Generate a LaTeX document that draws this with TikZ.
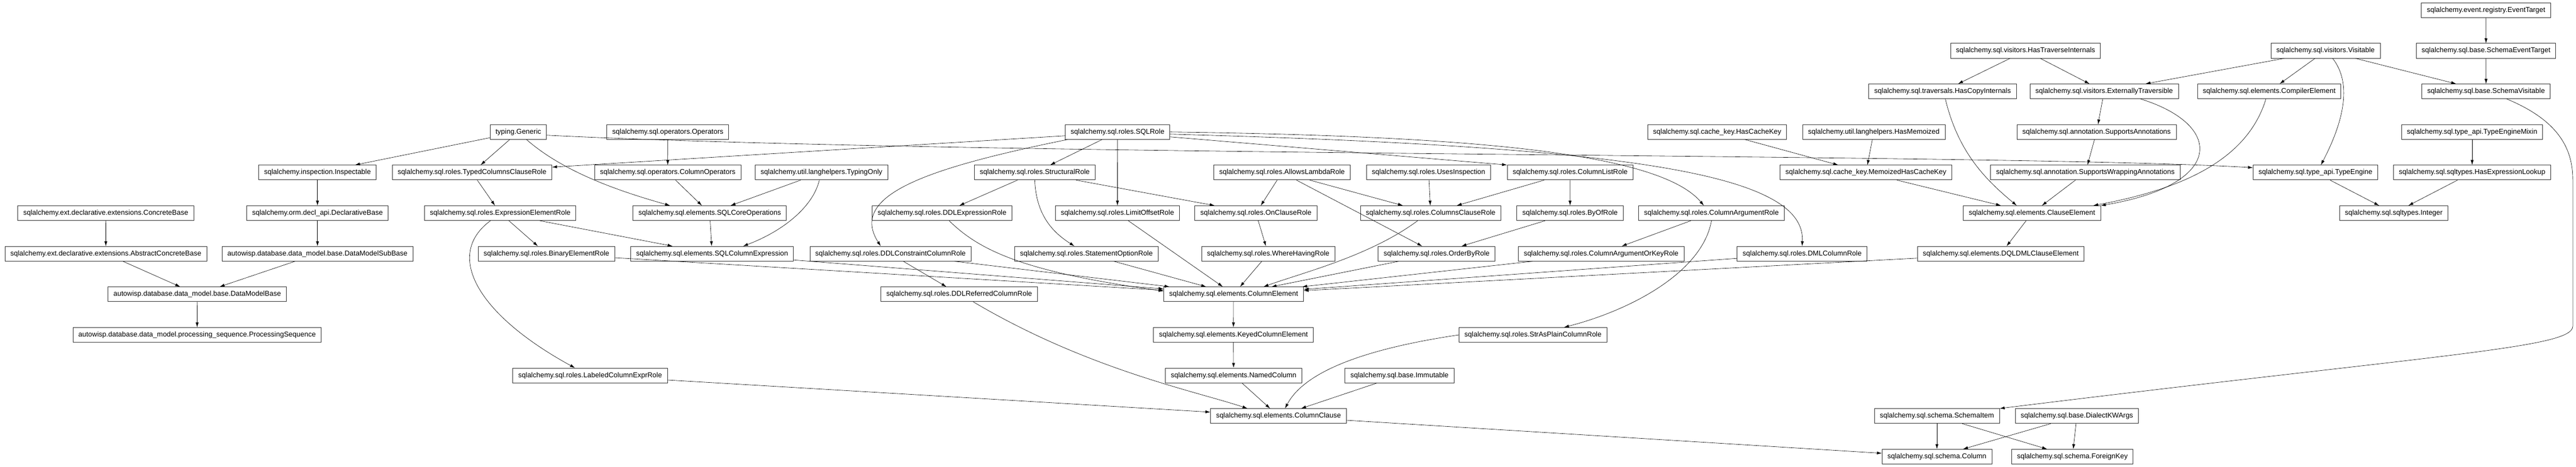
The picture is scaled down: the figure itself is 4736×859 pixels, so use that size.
\documentclass[tikz,border=0pt]{standalone}
\usepackage{fontspec}
\setmainfont{Liberation Sans}
\usetikzlibrary{arrows.meta}
\begin{document}
\begin{tikzpicture}[x=1pt,y=-1pt,>={Latex[length=9pt,width=5.5pt]},
    cls/.style={draw=black!80,line width=0.9pt,minimum height=27pt,
      inner xsep=10pt,inner ysep=0pt,font=\fontsize{13}{15}\selectfont},
    inh/.style={->,line width=0.6pt}]
  \useasboundingbox (0,0) rectangle (4736,859);
  \node[cls] (EventTarget) at (4570.6,18.8) {sqlalchemy.event.registry.EventTarget};
  \node[cls] (HasTraverseInternals) at (3724,93.45) {sqlalchemy.sql.visitors.HasTraverseInternals};
  \node[cls] (Visitable) at (4275.5,93.45) {sqlalchemy.sql.visitors.Visitable};
  \node[cls] (SchemaEventTarget) at (4570.5,93.45) {sqlalchemy.sql.base.SchemaEventTarget};
  \node[cls] (HasCopyInternals) at (3571.5,168.1) {sqlalchemy.sql.traversals.HasCopyInternals};
  \node[cls] (ExternallyTraversible) at (3868.5,168.1) {sqlalchemy.sql.visitors.ExternallyTraversible};
  \node[cls] (CompilerElement) at (4171.9,168.1) {sqlalchemy.sql.elements.CompilerElement};
  \node[cls] (SchemaVisitable) at (4570.6,168.1) {sqlalchemy.sql.base.SchemaVisitable};
  \node[cls] (Generic) at (953,242.75) {typing.Generic};
  \node[cls] (Operators) at (1227.8,242.75) {sqlalchemy.sql.operators.Operators};
  \node[cls] (SQLRole) at (2054.6,242.75) {sqlalchemy.sql.roles.SQLRole};
  \node[cls] (HasCacheKey) at (3157,242.75) {sqlalchemy.sql.cache\_key.HasCacheKey};
  \node[cls] (HasMemoized) at (3445,242.75) {sqlalchemy.util.langhelpers.HasMemoized};
  \node[cls] (SupportsAnnotations) at (3854.5,242.75) {sqlalchemy.sql.annotation.SupportsAnnotations};
  \node[cls] (TypeEngineMixin) at (4545,242.75) {sqlalchemy.sql.type\_api.TypeEngineMixin};
  \node[cls] (Inspectable) at (583.7,317.4) {sqlalchemy.inspection.Inspectable};
  \node[cls] (TypedColumnsClauseRole) at (867.8,317.4) {sqlalchemy.sql.roles.TypedColumnsClauseRole};
  \node[cls] (ColumnOperators) at (1227.6,317.4) {sqlalchemy.sql.operators.ColumnOperators};
  \node[cls] (TypingOnly) at (1510.3,317.4) {sqlalchemy.util.langhelpers.TypingOnly};
  \node[cls] (StructuralRole) at (1902.4,317.4) {sqlalchemy.sql.roles.StructuralRole};
  \node[cls] (AllowsLambdaRole) at (2357,317.4) {sqlalchemy.sql.roles.AllowsLambdaRole};
  \node[cls] (UsesInspection) at (2626.4,317.4) {sqlalchemy.sql.roles.UsesInspection};
  \node[cls] (ColumnListRole) at (2886.7,317.4) {sqlalchemy.sql.roles.ColumnListRole};
  \node[cls] (MemoizedHasCacheKey) at (3430.5,317.4) {sqlalchemy.sql.cache\_key.MemoizedHasCacheKey};
  \node[cls] (SupportsWrappingAnnotations) at (3834,317.4) {sqlalchemy.sql.annotation.SupportsWrappingAnnotations};
  \node[cls] (TypeEngine) at (4257,317.4) {sqlalchemy.sql.type\_api.TypeEngine};
  \node[cls] (HasExpressionLookup) at (4545,317.4) {sqlalchemy.sql.sqltypes.HasExpressionLookup};
  \node[cls] (ConcreteBase) at (194.4,392.05) {sqlalchemy.ext.declarative.extensions.ConcreteBase};
  \node[cls] (DeclarativeBase) at (583.7,392.05) {sqlalchemy.orm.decl\_api.DeclarativeBase};
  \node[cls] (ExpressionElementRole) at (919.7,392.05) {sqlalchemy.sql.roles.ExpressionElementRole};
  \node[cls] (SQLCoreOperations) at (1304.8,392.05) {sqlalchemy.sql.elements.SQLCoreOperations};
  \node[cls] (DDLExpressionRole) at (1732,392.05) {sqlalchemy.sql.roles.DDLExpressionRole};
  \node[cls] (LimitOffsetRole) at (2054.4,392.05) {sqlalchemy.sql.roles.LimitOffsetRole};
  \node[cls] (OnClauseRole) at (2309,392.05) {sqlalchemy.sql.roles.OnClauseRole};
  \node[cls] (ColumnsClauseRole) at (2630.3,392.05) {sqlalchemy.sql.roles.ColumnsClauseRole};
  \node[cls] (ByOfRole) at (2886.5,392.05) {sqlalchemy.sql.roles.ByOfRole};
  \node[cls] (ColumnArgumentRole) at (3146.5,392.05) {sqlalchemy.sql.roles.ColumnArgumentRole};
  \node[cls] (ClauseElement) at (3735.7,392.05) {sqlalchemy.sql.elements.ClauseElement};
  \node[cls] (Integer) at (4400.9,392.05) {sqlalchemy.sql.sqltypes.Integer};
  \node[cls] (AbstractConcreteBase) at (194.6,466.7) {sqlalchemy.ext.declarative.extensions.AbstractConcreteBase};
  \node[cls] (DataModelSubBase) at (583.7,466.7) {autowisp.database.data\_model.base.DataModelSubBase};
  \node[cls] (BinaryElementRole) at (1004.7,466.7) {sqlalchemy.sql.roles.BinaryElementRole};
  \node[cls] (SQLColumnExpression) at (1309.2,466.7) {sqlalchemy.sql.elements.SQLColumnExpression};
  \node[cls] (DDLConstraintColumnRole) at (1637.2,466.7) {sqlalchemy.sql.roles.DDLConstraintColumnRole};
  \node[cls] (StatementOptionRole) at (1997.3,466.7) {sqlalchemy.sql.roles.StatementOptionRole};
  \node[cls] (WhereHavingRole) at (2331.6,466.7) {sqlalchemy.sql.roles.WhereHavingRole};
  \node[cls] (OrderByRole) at (2641.2,466.7) {sqlalchemy.sql.roles.OrderByRole};
  \node[cls] (ColumnArgumentOrKeyRole) at (2943.7,466.7) {sqlalchemy.sql.roles.ColumnArgumentOrKeyRole};
  \node[cls] (DMLColumnRole) at (3313.2,466.7) {sqlalchemy.sql.roles.DMLColumnRole};
  \node[cls] (DQLDMLClauseElement) at (3678.5,466.7) {sqlalchemy.sql.elements.DQLDMLClauseElement};
  \node[cls] (DataModelBase) at (362.6,541.35) {autowisp.database.data\_model.base.DataModelBase};
  \node[cls] (DDLReferredColumnRole) at (1763.5,541.35) {sqlalchemy.sql.roles.DDLReferredColumnRole};
  \node[cls] (ColumnElement) at (2268,541.35) {sqlalchemy.sql.elements.ColumnElement};
  \node[cls] (ProcessingSequence) at (362.4,616) {autowisp.database.data\_model.processing\_sequence.ProcessingSequence};
  \node[cls] (KeyedColumnElement) at (2267.6,616) {sqlalchemy.sql.elements.KeyedColumnElement};
  \node[cls] (StrAsPlainColumnRole) at (2818.4,616) {sqlalchemy.sql.roles.StrAsPlainColumnRole};
  \node[cls] (LabeledColumnExprRole) at (1085,690.65) {sqlalchemy.sql.roles.LabeledColumnExprRole};
  \node[cls] (NamedColumn) at (2268,690.65) {sqlalchemy.sql.elements.NamedColumn};
  \node[cls] (Immutable) at (2573,690.65) {sqlalchemy.sql.base.Immutable};
  \node[cls] (ColumnClause) at (2350.5,765.3) {sqlalchemy.sql.elements.ColumnClause};
  \node[cls] (SchemaItem) at (3561,765.3) {sqlalchemy.sql.schema.SchemaItem};
  \node[cls] (DialectKWArgs) at (3818.4,765.3) {sqlalchemy.sql.base.DialectKWArgs};
  \node[cls] (Column) at (3561,839.95) {sqlalchemy.sql.schema.Column};
  \node[cls] (ForeignKey) at (3810,839.95) {sqlalchemy.sql.schema.ForeignKey};
  \draw[inh] (EventTarget) -- (SchemaEventTarget);
  \draw[inh] (SchemaEventTarget) -- (SchemaVisitable);
  \draw[inh] (Visitable) -- (SchemaVisitable);
  \draw[inh] (Visitable) -- (CompilerElement);
  \draw[inh] (Visitable) -- (ExternallyTraversible);
  \draw[inh] (HasTraverseInternals) -- (HasCopyInternals);
  \draw[inh] (HasTraverseInternals) -- (ExternallyTraversible);
  \draw[inh] (ExternallyTraversible) -- (SupportsAnnotations);
  \draw[inh] (SupportsAnnotations) -- (SupportsWrappingAnnotations);
  \draw[inh] (SupportsWrappingAnnotations) -- (ClauseElement);
  \draw[inh] (MemoizedHasCacheKey) -- (ClauseElement);
  \draw[inh] (HasCacheKey) -- (MemoizedHasCacheKey);
  \draw[inh] (HasMemoized) -- (MemoizedHasCacheKey);
  \draw[inh] (ClauseElement) -- (DQLDMLClauseElement);
  \draw[inh] (TypeEngineMixin) -- (HasExpressionLookup);
  \draw[inh] (TypeEngine) -- (Integer);
  \draw[inh] (HasExpressionLookup) -- (Integer);
  \draw[inh] (ConcreteBase) -- (AbstractConcreteBase);
  \draw[inh] (AbstractConcreteBase) -- (DataModelBase);
  \draw[inh] (Inspectable) -- (DeclarativeBase);
  \draw[inh] (DeclarativeBase) -- (DataModelSubBase);
  \draw[inh] (DataModelSubBase) -- (DataModelBase);
  \draw[inh] (DataModelBase) -- (ProcessingSequence);
  \draw[inh] (Generic) -- (Inspectable);
  \draw[inh] (Generic) -- (TypedColumnsClauseRole);
  \draw[inh] (Operators) -- (ColumnOperators);
  \draw[inh] (ColumnOperators) -- (SQLCoreOperations);
  \draw[inh] (TypingOnly) -- (SQLCoreOperations);
  \draw[inh] (SQLCoreOperations) -- (SQLColumnExpression);
  \draw[inh] (ExpressionElementRole) -- (SQLColumnExpression);
  \draw[inh] (TypedColumnsClauseRole) -- (ExpressionElementRole);
  \draw[inh] (ExpressionElementRole) -- (BinaryElementRole);
  \draw[inh] (SQLRole) -- (StructuralRole);
  \draw[inh] (SQLRole) -- (LimitOffsetRole);
  \draw[inh] (StructuralRole) -- (DDLExpressionRole);
  \draw[inh] (StructuralRole) -- (OnClauseRole);
  \draw[inh] (AllowsLambdaRole) -- (OnClauseRole);
  \draw[inh] (AllowsLambdaRole) -- (ColumnsClauseRole);
  \draw[inh] (AllowsLambdaRole) -- (OrderByRole);
  \draw[inh] (OnClauseRole) -- (WhereHavingRole);
  \draw[inh] (UsesInspection) -- (ColumnsClauseRole);
  \draw[inh] (ColumnListRole) -- (ColumnsClauseRole);
  \draw[inh] (ColumnListRole) -- (ByOfRole);
  \draw[inh] (ByOfRole) -- (OrderByRole);
  \draw[inh] (ColumnArgumentRole) -- (ColumnArgumentOrKeyRole);
  \draw[inh] (DDLConstraintColumnRole) -- (DDLReferredColumnRole);
  \draw[inh] (BinaryElementRole) -- (ColumnElement);
  \draw[inh] (SQLColumnExpression) -- (ColumnElement);
  \draw[inh] (DDLConstraintColumnRole) -- (ColumnElement);
  \draw[inh] (StatementOptionRole) -- (ColumnElement);
  \draw[inh] (LimitOffsetRole) -- (ColumnElement);
  \draw[inh] (WhereHavingRole) -- (ColumnElement);
  \draw[inh] (OrderByRole) -- (ColumnElement);
  \draw[inh] (ColumnArgumentOrKeyRole) -- (ColumnElement);
  \draw[inh] (DMLColumnRole) -- (ColumnElement);
  \draw[inh] (DQLDMLClauseElement) -- (ColumnElement);
  \draw[inh] (ColumnElement) -- (KeyedColumnElement);
  \draw[inh] (KeyedColumnElement) -- (NamedColumn);
  \draw[inh] (NamedColumn) -- (ColumnClause);
  \draw[inh] (Immutable) -- (ColumnClause);
  \draw[inh] (LabeledColumnExprRole) -- (ColumnClause);
  \draw[inh] (ColumnClause) -- (Column);
  \draw[inh] (SchemaItem) -- (Column);
  \draw[inh] (SchemaItem) -- (ForeignKey);
  \draw[inh] (DialectKWArgs) -- (Column);
  \draw[inh] (DialectKWArgs) -- (ForeignKey);
  \draw[inh] ([yshift=-6pt]Generic.east) .. controls (1800,288) and (3700,282) .. ([yshift=9pt]TypeEngine.west);
  \draw[inh] ([xshift=15pt]Generic.south) .. controls (1040,320) and (1150,355) .. ([xshift=-73pt]SQLCoreOperations.north);
  \draw[inh] ([xshift=-4pt]TypingOnly.south) .. controls (1495,380) and (1440,425) .. ([xshift=57pt]SQLColumnExpression.north);
  \draw[inh] ([xshift=-18pt]ExpressionElementRole.south) .. controls (815,470) and (880,580) .. ([xshift=-28pt]LabeledColumnExprRole.north);
  \draw[inh] ([yshift=-7pt]SQLRole.west) -- ([yshift=10pt]TypedColumnsClauseRole.east);
  \draw[inh] ([xshift=-92pt]SQLRole.south) .. controls (1700,310) and (1560,360) .. ([xshift=-18pt]DDLConstraintColumnRole.north);
  \draw[inh] (StructuralRole.south) .. controls (1905,400) and (1940,430) .. ([xshift=-22pt]StatementOptionRole.north);
  \draw[inh] ([yshift=-9pt]SQLRole.east) -- (ColumnListRole.north west);
  \draw[inh] (SQLRole.east) .. controls (2700,250) and (3050,280) .. ([xshift=-14pt]ColumnArgumentRole.north);
  \draw[inh] ([yshift=-4pt]SQLRole.east) .. controls (3000,270) and (3320,320) .. (DMLColumnRole.north);
  \draw[inh] ([xshift=13pt]DDLExpressionRole.south) .. controls (1800,460) and (1880,500) .. ([yshift=6pt]ColumnElement.west);
  \draw[inh] ([xshift=-24pt]ColumnsClauseRole.south) .. controls (2520,470) and (2400,500) .. ([xshift=55pt]ColumnElement.north);
  \draw[inh] ([xshift=26pt]DDLReferredColumnRole.south) .. controls (2000,680) and (2200,720) .. ([xshift=-57pt]ColumnClause.north);
  \draw[inh] (StrAsPlainColumnRole.west) .. controls (2520,640) and (2400,680) .. ([xshift=12pt]ColumnClause.north);
  \draw[inh] (ColumnArgumentRole.south) .. controls (3130,500) and (3000,570) .. ([xshift=57pt]StrAsPlainColumnRole.north);
  \draw[inh] ([xshift=13pt]Visitable.south) .. controls (4330,160) and (4300,240) .. ([xshift=10pt]TypeEngine.north);
  \draw[inh] ([xshift=-6pt]CompilerElement.south) .. controls (4130,300) and (4000,350) .. ([xshift=-14pt]ClauseElement.north east);
  \draw[inh] ([xshift=67pt]ExternallyTraversible.south) .. controls (4090,230) and (4090,340) .. (ClauseElement.north east);
  \draw[inh] ([xshift=5pt]HasCopyInternals.south) .. controls (3600,280) and (3650,330) .. ([xshift=-28pt]ClauseElement.north);
  \draw[inh] ([xshift=38pt]SchemaVisitable.south) .. controls (4700,220) and (4730,270) .. (4730,330) -- (4730,600) .. controls (4730,640) and (4500,650) .. (SchemaItem.north east);
\end{tikzpicture}
\end{document}
